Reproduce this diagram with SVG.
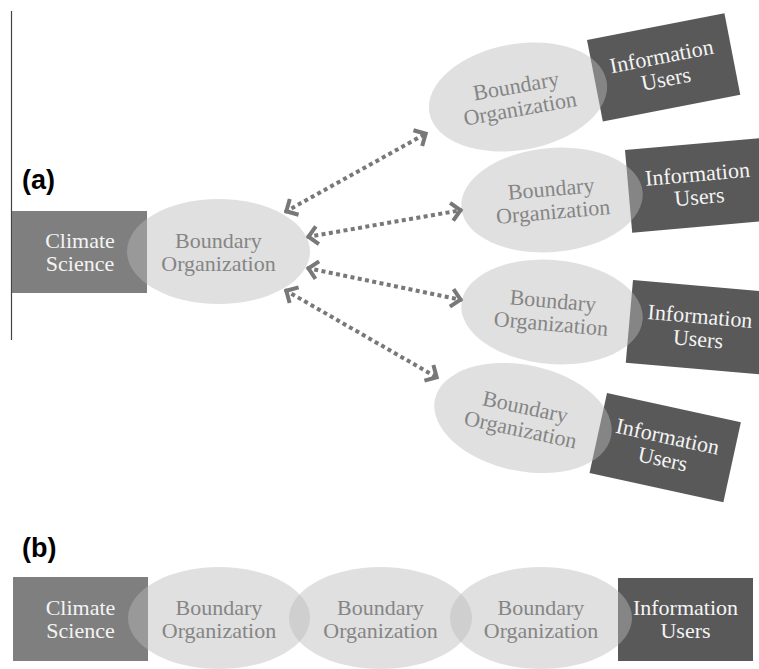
<svg xmlns="http://www.w3.org/2000/svg" width="759" height="669" viewBox="0 0 759 669">
  <style>
    .cs { fill: #7f7f7f; }
    .iu { fill: #595959; }
    .bo { fill: #bababa; fill-opacity: 0.45; }
    .t { font-family: "Liberation Serif", "Times New Roman", serif; font-size: 22px; text-anchor: middle; }
    .tw { fill: #f4f4f4; }
    .tg { fill: #858585; }
    .lab { font-family: "Liberation Sans", Arial, sans-serif; font-weight: bold; font-size: 27px; fill: #000; }
    .arr { fill: none; stroke: #787878; stroke-width: 4; stroke-dasharray: 4 3.4; marker-start: url(#chev); marker-end: url(#chev); }
  </style>
  <defs>
    <marker id="chev" markerUnits="userSpaceOnUse" markerWidth="24" markerHeight="24" viewBox="-16 -12 24 24" refX="1.5" refY="0" orient="auto-start-reverse">
      <path d="M -9 -9 L 0 0 L -9 9" fill="none" stroke="#787878" stroke-width="4"/>
    </marker>
  </defs>
  <rect width="759" height="669" fill="#ffffff"/>

  <line x1="11.5" y1="11" x2="11.5" y2="340" stroke="#444" stroke-width="1.2"/>
  <text class="lab" x="22" y="189">(a)</text>
  <text class="lab" x="22" y="557">(b)</text>

  <!-- (a) -->
  <g id="a-climate-science">
    <rect class="cs" x="12" y="211" width="135" height="82"/>
    <text class="t tw" x="80" y="248">Climate</text>
    <text class="t tw" x="80" y="271">Science</text>
  </g>
  <g id="a-users-1" transform="translate(587,40) rotate(-11)">
    <rect class="iu" x="0" y="0" width="140" height="83"/>
    <text class="t tw" x="70" y="37.5">Information</text>
    <text class="t tw" x="70" y="60.5">Users</text>
  </g>
  <g id="a-users-2" transform="translate(625,150) rotate(-5)">
    <rect class="iu" x="0" y="0" width="140" height="83"/>
    <text class="t tw" x="70" y="37.5">Information</text>
    <text class="t tw" x="70" y="60.5">Users</text>
  </g>
  <g id="a-users-3" transform="translate(633,280) rotate(5)">
    <rect class="iu" x="0" y="0" width="140" height="83"/>
    <text class="t tw" x="70" y="37.5">Information</text>
    <text class="t tw" x="70" y="60.5">Users</text>
  </g>
  <g id="a-users-4" transform="translate(607,393) rotate(12.3)">
    <rect class="iu" x="0" y="0" width="137" height="82"/>
    <text class="t tw" x="68.5" y="37">Information</text>
    <text class="t tw" x="68.5" y="60">Users</text>
  </g>

  <g id="a-boundary-main">
    <ellipse class="bo" cx="218.5" cy="251.5" rx="91.5" ry="52.5"/>
    <text class="t tg" x="218.5" y="248">Boundary</text>
    <text class="t tg" x="218.5" y="271">Organization</text>
  </g>
  <g id="a-boundary-1" transform="translate(518,97) rotate(-10)">
    <ellipse class="bo" cx="0" cy="0" rx="90" ry="53"/>
    <text class="t tg" x="0" y="-4">Boundary</text>
    <text class="t tg" x="0" y="19">Organization</text>
  </g>
  <g id="a-boundary-2" transform="translate(552,200) rotate(-5)">
    <ellipse class="bo" cx="0" cy="0" rx="91" ry="52"/>
    <text class="t tg" x="0" y="-4">Boundary</text>
    <text class="t tg" x="0" y="19">Organization</text>
  </g>
  <g id="a-boundary-3" transform="translate(552,312) rotate(5)">
    <ellipse class="bo" cx="0" cy="0" rx="91" ry="52"/>
    <text class="t tg" x="0" y="-4">Boundary</text>
    <text class="t tg" x="0" y="19">Organization</text>
  </g>
  <g id="a-boundary-4" transform="translate(523,418) rotate(12)">
    <ellipse class="bo" cx="0" cy="0" rx="90" ry="53"/>
    <text class="t tg" x="0" y="-4">Boundary</text>
    <text class="t tg" x="0" y="19">Organization</text>
  </g>

  <g id="connectors">
    <line class="arr" x1="285" y1="212" x2="427" y2="133"/>
    <line class="arr" x1="307" y1="237" x2="462" y2="210"/>
    <line class="arr" x1="307" y1="268" x2="462" y2="300"/>
    <line class="arr" x1="285" y1="290" x2="438" y2="378"/>
  </g>

  <!-- (b) -->
  <g id="b-climate-science">
    <rect class="cs" x="13" y="577" width="135" height="84"/>
    <text class="t tw" x="80.5" y="615">Climate</text>
    <text class="t tw" x="80.5" y="638">Science</text>
  </g>
  <g id="b-users">
    <rect class="iu" x="618" y="578" width="135" height="83"/>
    <text class="t tw" x="685.5" y="615">Information</text>
    <text class="t tw" x="685.5" y="638">Users</text>
  </g>
  <g id="b-boundary-1">
    <ellipse class="bo" cx="219" cy="618" rx="91" ry="51"/>
    <text class="t tg" x="219" y="615">Boundary</text>
    <text class="t tg" x="219" y="638">Organization</text>
  </g>
  <g id="b-boundary-2">
    <ellipse class="bo" cx="380.5" cy="618" rx="91.5" ry="51"/>
    <text class="t tg" x="380.5" y="615">Boundary</text>
    <text class="t tg" x="380.5" y="638">Organization</text>
  </g>
  <g id="b-boundary-3">
    <ellipse class="bo" cx="541" cy="618" rx="91" ry="51"/>
    <text class="t tg" x="541" y="615">Boundary</text>
    <text class="t tg" x="541" y="638">Organization</text>
  </g>
</svg>
